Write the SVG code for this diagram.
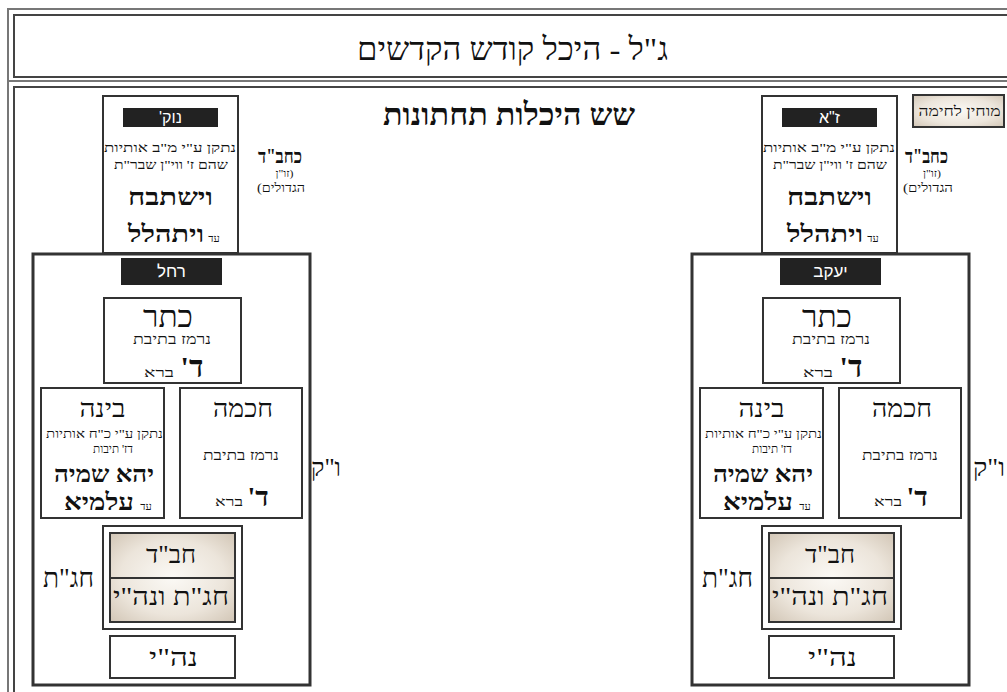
<svg xmlns="http://www.w3.org/2000/svg" width="1007" height="692" viewBox="0 0 1007 692">
<defs>
<radialGradient id="beige" cx="50%" cy="50%" r="70%">
<stop offset="0" stop-color="#fbf9f5"/>
<stop offset="0.6" stop-color="#ece5db"/>
<stop offset="1" stop-color="#d2c6b6"/>
</radialGradient>
<style>
text{font-family:"Liberation Serif","DejaVu Sans",serif;fill:#111;direction:rtl;text-anchor:middle}
.frame{fill:none;stroke:#444;stroke-width:2}
.outer{fill:none;stroke:#777;stroke-width:2}
.big{fill:#fff;stroke:#333;stroke-width:3}
.box{fill:#fff;stroke:#333;stroke-width:2}
.hdr{fill:#222}
.hdrt{font-family:"Liberation Sans","DejaVu Sans",sans-serif;fill:#fff;font-size:16px}
.sm{font-size:13px}
.xs{font-size:11px}
.bold{font-weight:bold}
.grad{fill:url(#beige);stroke:#333;stroke-width:2}
</style>
</defs>
<g id="frame">
<path class="outer" d="M8,700 V9 H1015"/>
<path class="outer" d="M8,81 H1015"/>
<rect class="frame" x="14" y="15" width="1000" height="62"/>
<rect class="frame" x="14" y="87" width="1000" height="700"/>
</g>
<g id="title"><text x="512.5" y="60" style="font-size:32px" textLength="311" lengthAdjust="spacingAndGlyphs">ג"ל - היכל קודש הקדשים</text></g>
<g id="subtitle"><text x="509" y="125" class="bold" style="font-size:31px" textLength="252" lengthAdjust="spacingAndGlyphs">שש היכלות תחתונות</text></g>

<g id="nok">
<rect class="box" x="103" y="96" width="135" height="157"/>
<rect class="hdr" x="123" y="108" width="95" height="19"/>
<text class="hdrt" x="170.5" y="123">נוק'</text>
<text class="sm" x="170" y="152" textLength="132" lengthAdjust="spacingAndGlyphs">נתקן ע"י מ"ב אותיות</text>
<text class="sm" x="171" y="169" textLength="114" lengthAdjust="spacingAndGlyphs">שהם ז' ווי"ן שבר"ת</text>
<text class="bold" x="170.5" y="205" style="font-size:24px" textLength="85" lengthAdjust="spacingAndGlyphs">וישתבח</text>
<text class="bold" x="166" y="242" style="font-size:24px" textLength="76" lengthAdjust="spacingAndGlyphs">ויתהלל</text>
<text class="xs" x="214" y="242">עד</text>
</g>
<g id="kchabad-left">
<text class="bold" x="280" y="163" style="font-size:20px" textLength="44" lengthAdjust="spacingAndGlyphs">כחב"ד</text>
<text class="xs" x="284.5" y="177" textLength="18" lengthAdjust="spacingAndGlyphs">(זו"ן</text>
<text x="281" y="192" style="font-size:12px" textLength="48" lengthAdjust="spacingAndGlyphs">הגדולים)</text>
</g>

<g id="rachel">
<rect class="big" x="33" y="254" width="277" height="431"/>
<rect class="hdr" x="121" y="258" width="101" height="27"/>
<text class="hdrt" x="171.5" y="277" style="font-size:17px">רחל</text>
</g>
<g id="keter-left">
<rect class="box" x="104" y="298" width="137" height="85"/>
<text x="168" y="327" style="font-size:30px" textLength="50" lengthAdjust="spacingAndGlyphs">כתר</text>
<text x="172" y="344" style="font-size:14px" textLength="78" lengthAdjust="spacingAndGlyphs">נרמז בתיבת</text>
<text class="bold" x="192" y="377" style="font-size:30px">ד'</text>
<text x="159" y="377" style="font-size:13px" textLength="30" lengthAdjust="spacingAndGlyphs">ברא</text>
</g>
<g id="binah-left">
<rect class="box" x="41" y="388" width="123" height="130"/>
<text x="102.5" y="417" style="font-size:26px" textLength="46" lengthAdjust="spacingAndGlyphs">בינה</text>
<text class="xs" x="104.5" y="438" style="font-size:12px" textLength="117" lengthAdjust="spacingAndGlyphs">נתקן ע"י כ"ח אותיות</text>
<text class="xs" x="113" y="453" style="font-size:12px" textLength="40" lengthAdjust="spacingAndGlyphs">דז' תיבות</text>
<text class="bold" x="104" y="482" style="font-size:24px" textLength="100" lengthAdjust="spacingAndGlyphs">יהא שמיה</text>
<text class="bold" x="99" y="510" style="font-size:24px" textLength="70" lengthAdjust="spacingAndGlyphs">עלמיא</text>
<text class="xs" x="146" y="510">עד</text>
</g>
<g id="chochma-left">
<rect class="box" x="180" y="388" width="122" height="130"/>
<text x="243" y="417" style="font-size:26px" textLength="60" lengthAdjust="spacingAndGlyphs">חכמה</text>
<text x="241" y="460" style="font-size:14px" textLength="76" lengthAdjust="spacingAndGlyphs">נרמז בתיבת</text>
<text class="bold" x="258" y="506" style="font-size:28px">ד'</text>
<text x="229" y="506" style="font-size:13px" textLength="28" lengthAdjust="spacingAndGlyphs">ברא</text>
</g>
<g id="chagat-left">
<rect class="box" x="103" y="526" width="139" height="103"/>
<rect class="grad" x="110" y="533" width="125" height="89"/>
<line x1="110" y1="578" x2="235" y2="578" stroke="#333" stroke-width="2"/>
<text x="171" y="563" style="font-size:26px" textLength="50" lengthAdjust="spacingAndGlyphs">חב"ד</text>
<text x="171" y="605" style="font-size:26px" textLength="116" lengthAdjust="spacingAndGlyphs">חג"ת ונה"י</text>
</g>
<g id="chagat-label-left"><text x="68.5" y="587" style="font-size:28px" textLength="51" lengthAdjust="spacingAndGlyphs">חג"ת</text></g>
<g id="nehi-left">
<rect class="box" x="110" y="636" width="125" height="42"/>
<text x="173.5" y="666" style="font-size:26px" textLength="49" lengthAdjust="spacingAndGlyphs">נה"י</text>
</g>
<g id="vk-left"><text x="326" y="476" style="font-size:26px" textLength="30" lengthAdjust="spacingAndGlyphs">ו"ק</text></g>

<g id="muchin">
<rect class="grad" x="913" y="95" width="91" height="32"/>
<text x="959.5" y="116" style="font-size:14px" textLength="82" lengthAdjust="spacingAndGlyphs">מוחין לחימה</text>
</g>
<g id="za">
<rect class="box" x="762" y="96" width="135" height="157"/>
<rect class="hdr" x="782" y="108" width="95" height="19"/>
<text class="hdrt" x="829.5" y="123">ז"א</text>
<text class="sm" x="829" y="152" textLength="132" lengthAdjust="spacingAndGlyphs">נתקן ע"י מ"ב אותיות</text>
<text class="sm" x="830" y="169" textLength="114" lengthAdjust="spacingAndGlyphs">שהם ז' ווי"ן שבר"ת</text>
<text class="bold" x="829.5" y="205" style="font-size:24px" textLength="85" lengthAdjust="spacingAndGlyphs">וישתבח</text>
<text class="bold" x="825" y="242" style="font-size:24px" textLength="76" lengthAdjust="spacingAndGlyphs">ויתהלל</text>
<text class="xs" x="873" y="242">עד</text>
</g>
<g id="kchabad-right">
<text class="bold" x="926.5" y="163" style="font-size:20px" textLength="43" lengthAdjust="spacingAndGlyphs">כחב"ד</text>
<text class="xs" x="932" y="177" textLength="18" lengthAdjust="spacingAndGlyphs">(זו"ן</text>
<text x="928" y="192" style="font-size:12px" textLength="50" lengthAdjust="spacingAndGlyphs">הגדולים)</text>
</g>

<g id="yaakov">
<rect class="big" x="692" y="254" width="277" height="431"/>
<rect class="hdr" x="780" y="258" width="101" height="27"/>
<text class="hdrt" x="830.5" y="277" style="font-size:17px">יעקב</text>
</g>
<g id="keter-right">
<rect class="box" x="763" y="298" width="137" height="85"/>
<text x="827" y="327" style="font-size:30px" textLength="50" lengthAdjust="spacingAndGlyphs">כתר</text>
<text x="831" y="344" style="font-size:14px" textLength="78" lengthAdjust="spacingAndGlyphs">נרמז בתיבת</text>
<text class="bold" x="851" y="377" style="font-size:30px">ד'</text>
<text x="818" y="377" style="font-size:13px" textLength="30" lengthAdjust="spacingAndGlyphs">ברא</text>
</g>
<g id="binah-right">
<rect class="box" x="700" y="388" width="123" height="130"/>
<text x="761.5" y="417" style="font-size:26px" textLength="46" lengthAdjust="spacingAndGlyphs">בינה</text>
<text class="xs" x="763.5" y="438" style="font-size:12px" textLength="117" lengthAdjust="spacingAndGlyphs">נתקן ע"י כ"ח אותיות</text>
<text class="xs" x="772" y="453" style="font-size:12px" textLength="40" lengthAdjust="spacingAndGlyphs">דז' תיבות</text>
<text class="bold" x="763" y="482" style="font-size:24px" textLength="100" lengthAdjust="spacingAndGlyphs">יהא שמיה</text>
<text class="bold" x="758" y="510" style="font-size:24px" textLength="70" lengthAdjust="spacingAndGlyphs">עלמיא</text>
<text class="xs" x="805" y="510">עד</text>
</g>
<g id="chochma-right">
<rect class="box" x="839" y="388" width="122" height="130"/>
<text x="902" y="417" style="font-size:26px" textLength="60" lengthAdjust="spacingAndGlyphs">חכמה</text>
<text x="900" y="460" style="font-size:14px" textLength="76" lengthAdjust="spacingAndGlyphs">נרמז בתיבת</text>
<text class="bold" x="917" y="506" style="font-size:28px">ד'</text>
<text x="888" y="506" style="font-size:13px" textLength="28" lengthAdjust="spacingAndGlyphs">ברא</text>
</g>
<g id="chagat-right">
<rect class="box" x="762" y="526" width="139" height="103"/>
<rect class="grad" x="769" y="533" width="125" height="89"/>
<line x1="769" y1="578" x2="894" y2="578" stroke="#333" stroke-width="2"/>
<text x="830" y="563" style="font-size:26px" textLength="50" lengthAdjust="spacingAndGlyphs">חב"ד</text>
<text x="830" y="605" style="font-size:26px" textLength="116" lengthAdjust="spacingAndGlyphs">חג"ת ונה"י</text>
</g>
<g id="chagat-label-right"><text x="727.5" y="587" style="font-size:28px" textLength="51" lengthAdjust="spacingAndGlyphs">חג"ת</text></g>
<g id="nehi-right">
<rect class="box" x="769" y="636" width="125" height="42"/>
<text x="832.5" y="666" style="font-size:26px" textLength="49" lengthAdjust="spacingAndGlyphs">נה"י</text>
</g>
<g id="vk-right"><text x="989" y="476" style="font-size:26px" textLength="32" lengthAdjust="spacingAndGlyphs">ו"ק</text></g>
</svg>
